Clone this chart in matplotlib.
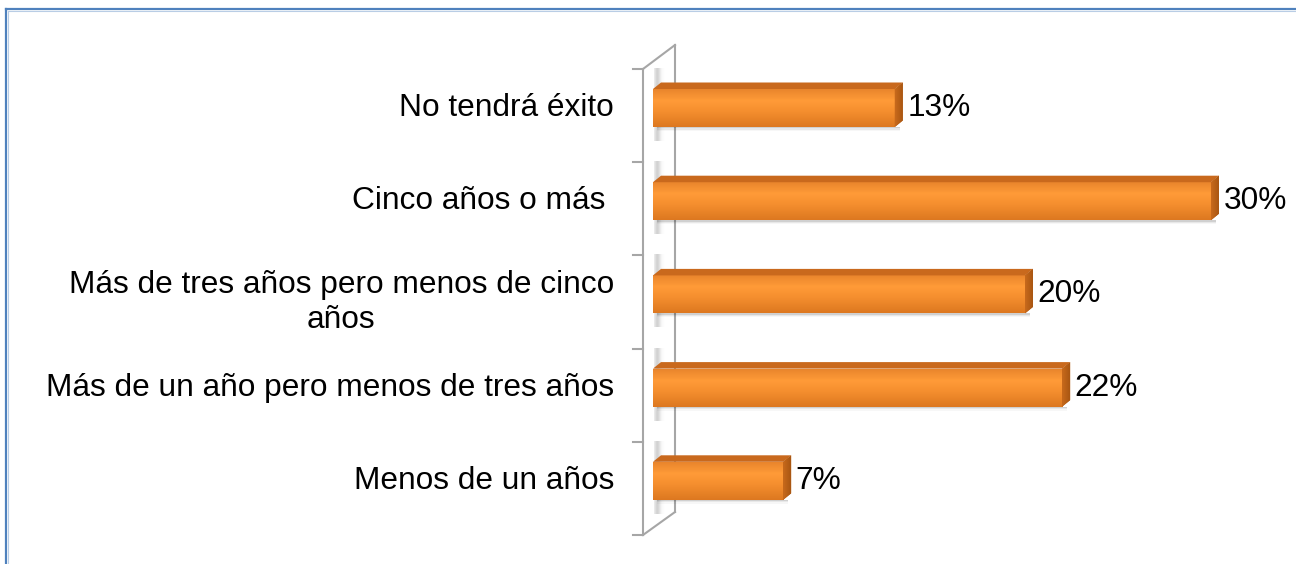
import numpy as np
import matplotlib.pyplot as plt
from matplotlib.patches import Polygon
from matplotlib.colors import LinearSegmentedColormap

# Data (bottom to top, as drawn)
categories = ['Menos de un años',
              'Más de un año pero menos de tres años',
              'Más de tres años pero menos de cinco\naños',
              'Cinco años o más ',
              'No tendrá éxito']
values = [7, 22, 20, 30, 13]
value_labels = ['7%', '22%', '20%', '30%', '13%']

plt.rcParams['font.family'] = ['Liberation Sans', 'DejaVu Sans']

W, H = 1296, 564
fig = plt.figure(figsize=(W / 100, H / 100), dpi=100)

# pixel mapping: x=0 -> 653 px, 1% -> 18.6 px ; category k centre -> 108 + (4-k)*93.2 px from top
x0_px, px_per_pct = 653, 18.6
yc_top, px_per_cat = 108, 93.2
xlim = (-1.5, 33.5)
ylim = (-0.8, 4.8)
left = (x0_px + xlim[0] * px_per_pct) / W
right = (x0_px + xlim[1] * px_per_pct) / W
top = (yc_top - (ylim[1] - 4) * px_per_cat)
bot = (yc_top + (4 - ylim[0]) * px_per_cat)
ax = fig.add_axes([left, 1 - bot / H, right - left, (bot - top) / H])
ax.set_xlim(*xlim)
ax.set_ylim(*ylim)
ax.axis('off')

# frame of the chart area (top and left edges visible)
fig.add_artist(plt.Line2D([6 / W, 6 / W], [0, 1 - 9 / H], color='#4F81BD', lw=1.6))
fig.add_artist(plt.Line2D([6 / W, 1], [1 - 9 / H, 1 - 9 / H], color='#4F81BD', lw=1.6))
fig.add_artist(plt.Line2D([7.5 / W, 7.5 / W], [0, 1 - 10.5 / H], color='#B9CDE5', lw=0.8))
fig.add_artist(plt.Line2D([7.5 / W, 1], [1 - 10.5 / H, 1 - 10.5 / H], color='#B9CDE5', lw=0.8))

# 3D side wall
wf = (643 - x0_px) / px_per_pct
wb = (675 - x0_px) / px_per_pct
y_front_top = 4 + (yc_top - 69) / px_per_cat
y_front_bot = 4 - (535 - yc_top) / px_per_cat
y_back_top = 4 + (yc_top - 45) / px_per_cat
y_back_bot = 4 - (512 - yc_top) / px_per_cat
wall_c = '#A6A6A6'
ax.plot([wf, wf], [y_front_bot, y_front_top], color=wall_c, lw=1.5, clip_on=False)
ax.plot([wb, wb], [y_back_bot, y_back_top], color=wall_c, lw=1.5, clip_on=False)
ax.plot([wf, wb], [y_front_top, y_back_top], color=wall_c, lw=1.5, clip_on=False)
ax.plot([wf, wb], [y_front_bot, y_back_bot], color=wall_c, lw=1.5, clip_on=False)
tick_len = 10 / px_per_pct
for j in range(6):
    ty = y_front_top - j * (y_front_top - y_front_bot) / 5
    ax.plot([wf - tick_len, wf], [ty, ty], color=wall_c, lw=1.5, clip_on=False)

# bar geometry
h = 38 / px_per_cat
dx = 8 / px_per_pct
dy = 6.5 / px_per_cat

front_cmap = LinearSegmentedColormap.from_list(
    'front', [(0, '#E9852C'), (0.3, '#FF9B38'), (0.6, '#F48E2E'), (1, '#DD7820')])
end_cmap = LinearSegmentedColormap.from_list('end', ['#C86A1C', '#A95612'])

bars = ax.barh(range(len(values)), values, height=h, color='#F48E2E', lw=0, zorder=3)
grad = np.linspace(0, 1, 64).reshape(-1, 1)
for k, (b, v) in enumerate(zip(bars, values)):
    yb, yt = k - h / 2, k + h / 2
    # wall shadow strip beside bar
    sh = np.linspace(0, 1, 32).reshape(1, -1)
    ax.imshow(np.exp(-((sh - 0.3) / 0.35) ** 2) * np.ones((8, 1)), cmap='Greys', vmin=0, vmax=3.0,
              extent=[0.05, 0.6, yb - 0.15, yt + 0.22], aspect='auto', zorder=1, alpha=0.8)
    # soft shadow under bar
    for i, a in enumerate([0.10, 0.06, 0.03]):
        ax.add_patch(Polygon([(0.2, yb - (i + 1) * 1.3 / px_per_cat), (v + dx * 0.6, yb - (i + 1) * 1.3 / px_per_cat),
                              (v + dx * 0.6, yb), (0.2, yb)], closed=True, color='k', alpha=a, lw=0, zorder=2))
    im = ax.imshow(grad, cmap=front_cmap, extent=[0, v, yb, yt], aspect='auto', zorder=4)
    im.set_clip_path(b)
    # top face
    ax.add_patch(Polygon([(0, yt), (dx, yt + dy), (v + dx, yt + dy), (v, yt)],
                         closed=True, color='#C9691D', lw=0, zorder=4))
    # end face
    end = Polygon([(v, yb), (v, yt), (v + dx, yt + dy), (v + dx, yb + dy)],
                  closed=True, color='#B85F16', lw=0, zorder=4)
    ax.add_patch(end)
    eim = ax.imshow(np.linspace(0, 1, 32).reshape(1, -1), cmap=end_cmap,
                    extent=[v, v + dx, yb, yt + dy], aspect='auto', zorder=5)
    eim.set_clip_path(end)
    ax.text(v + dx + 0.25, k + 0.0, value_labels[k], ha='left', va='center',
            fontsize=22.8, color='#000000', zorder=6)

lab_x = (614 - x0_px) / px_per_pct
for k, c in enumerate(categories):
    yoff = -0.09 if '\n' in c else 0
    ax.text(lab_x, k + yoff, c, ha='right', va='center', multialignment='center',
            fontsize=22.8, linespacing=1.22, color='#000000')

fig.savefig('out.png', dpi=100)
